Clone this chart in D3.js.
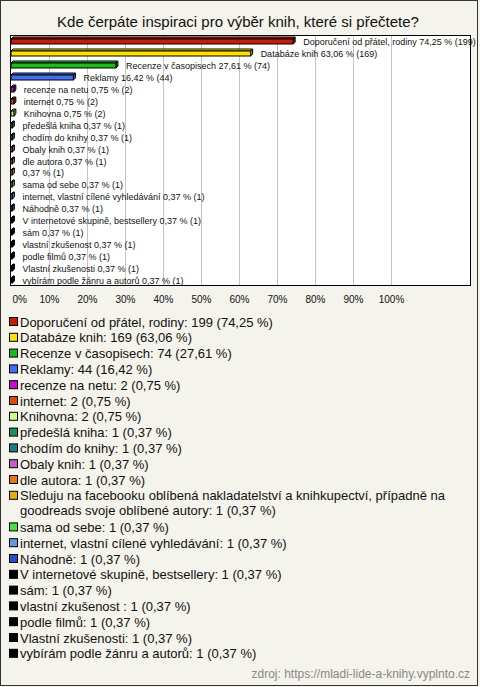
<!DOCTYPE html>
<html><head><meta charset="utf-8">
<script src="https://cdn.jsdelivr.net/npm/d3@7"></script>
<style>
html,body{margin:0;padding:0;background:#f4f3ec;}
svg{display:block;}
text{font-family:"Liberation Sans",Arial,sans-serif;}
</style></head><body>
<script>
const title = "Kde čerpáte inspiraci pro výběr knih, které si přečtete?";
const categories = [
 "Doporučení od přátel, rodiny","Databáze knih","Recenze v časopisech","Reklamy",
 "recenze na netu","internet","Knihovna","předešlá kniha","chodím do knihy","Obaly knih",
 "dle autora","Sleduju na facebooku oblíbená nakladatelství a knihkupectví, případně na goodreads svoje oblíbené autory",
 "sama od sebe","internet, vlastní cílené vyhledávání","Náhodně","V internetové skupině, bestsellery",
 "sám","vlastní zkušenost ","podle filmů","Vlastní zkušenosti","vybírám podle žánru a autorů"];
const counts = [199,169,74,44,2,2,2,1,1,1,1,1,1,1,1,1,1,1,1,1,1];
const percents = [74.25,63.06,27.61,16.42,0.75,0.75,0.75,0.37,0.37,0.37,0.37,0.37,0.37,0.37,0.37,0.37,0.37,0.37,0.37,0.37,0.37];
const barLabels = categories.map((c,i)=> i===11 ? "" : c); // long label hidden in the bar chart
const colors = ["#c41e0a","#ffe000","#1cb81c","#4070f0","#c010d0","#e04808","#ccff88","#189060",
 "#1e7a8c","#c060c8","#e07818","#e0b010","#44e044","#6a96e0","#2850c0",
 "#000000","#000000","#000000","#000000","#000000","#000000"];
const tickValues = [0,10,20,30,40,50,60,70,80,90,100];
const source = "zdroj: https://mladi-lide-a-knihy.vyplnto.cz";

const fmt = v => d3.format(".2f")(v).replace(".", ",");
const W = 480, H = 687;
const svg = d3.select("body").append("svg").attr("width", W).attr("height", H);

svg.append("rect").attr("x",0.5).attr("y",0.5).attr("width",477).attr("height",685)
  .attr("fill","#f4f3ec").attr("stroke","#333");

svg.append("text").attr("x",238).attr("y",26.5).attr("text-anchor","middle")
  .attr("font-size",15).attr("fill","#111").text(title);

const plot = {l:10.5, t:35.5, r:470.5, b:285.5};
const x = d3.scaleLinear().domain([0,100]).range([11, 391]);
const y = d3.scaleBand().domain(d3.range(categories.length)).range([plot.t, plot.b]);

svg.append("rect").attr("x",plot.l).attr("y",plot.t).attr("width",plot.r-plot.l).attr("height",plot.b-plot.t)
  .attr("fill","#fff");

const gx = svg.append("g");
gx.selectAll("line").data(tickValues.slice(1)).join("line")
  .attr("x1",d=>Math.round(x(d))+0.5).attr("x2",d=>Math.round(x(d))+0.5)
  .attr("y1",plot.t).attr("y2",plot.b).attr("stroke","#c4c4c4");

const axis = d3.axisBottom(x).tickValues(tickValues).tickFormat(d=>d+"%").tickSize(0).tickPadding(0);
const ag = svg.append("g").attr("transform",`translate(0,${303})`).call(axis);
ag.select(".domain").remove();
ag.selectAll("text").attr("font-size",10).attr("fill","#111").attr("dy",0).attr("y",0)
  .attr("font-family","'Liberation Sans',Arial,sans-serif");
ag.selectAll(".tick").filter(d=>d===0).select("text").attr("text-anchor","start").attr("x",1);

const depth = 2;
const bars = svg.append("g");
categories.forEach((c,i)=>{
  const cy = Math.round(y(i) + y.bandwidth()/2) ;
  const x0 = x(0), x1 = x(percents[i]);
  const top = cy - 2, bot = cy + 3;
  const col = d3.color(colors[i]);
  const g = bars.append("g");
  g.append("path").attr("d",`M${x0},${top} L${x0+depth},${top-depth} L${x1+depth},${top-depth} L${x1},${top} Z`)
   .attr("fill",col.brighter(0.3)).attr("stroke","#000").attr("stroke-width",1);
  g.append("path").attr("d",`M${x1},${top} L${x1+depth},${top-depth} L${x1+depth},${bot-depth} L${x1},${bot} Z`)
   .attr("fill",col.darker(0.6)).attr("stroke","#000").attr("stroke-width",1);
  g.append("rect").attr("x",x0).attr("y",top).attr("width",x1-x0).attr("height",bot-top)
   .attr("fill",colors[i]).attr("stroke","#000").attr("stroke-width",1);
  g.append("text").attr("x",x1+10).attr("y",cy+0.5).attr("dy","0.35em").attr("font-size",9)
   .attr("fill","#111")
   .text((barLabels[i] ? barLabels[i]+" " : "") + fmt(percents[i]) + " % (" + counts[i] + ")");
});

svg.append("rect").attr("x",plot.l).attr("y",plot.t).attr("width",plot.r-plot.l).attr("height",plot.b-plot.t)
  .attr("fill","none").attr("stroke","#000");

// legend
const lg = svg.append("g");
let line = 0;
const lh = 15.8, ly0 = 322, maxW = 448;
categories.forEach((c,i)=>{
  const cy = ly0 + line*lh;
  lg.append("rect").attr("x",9.5).attr("y",cy-4.5).attr("width",8).attr("height",8)
    .attr("fill",colors[i]).attr("stroke","#000");
  const full = c + ": " + counts[i] + " (" + fmt(percents[i]) + " %)";
  const t = lg.append("text").attr("x",20).attr("y",cy+4.6).attr("font-size",13).attr("fill","#111");
  const words = full.split(" ");
  let cur = [], lines = [];
  const probe = lg.append("text").attr("font-size",13);
  words.forEach(w=>{
    const test = cur.concat([w]).join(" ");
    probe.text(test);
    if (probe.node().getComputedTextLength() > maxW && cur.length){ lines.push(cur.join(" ")); cur=[w]; }
    else cur.push(w);
  });
  lines.push(cur.join(" "));
  probe.remove();
  lines.forEach((s,k)=>{
    t.append("tspan").attr("x",20).attr("dy",k===0?0:15).text(s);
  });
  line += lines.length;
});

svg.append("text").attr("x",470).attr("y",678).attr("text-anchor","end").attr("font-size",12)
  .attr("fill","#888").text(source);
</script>
</body></html>
